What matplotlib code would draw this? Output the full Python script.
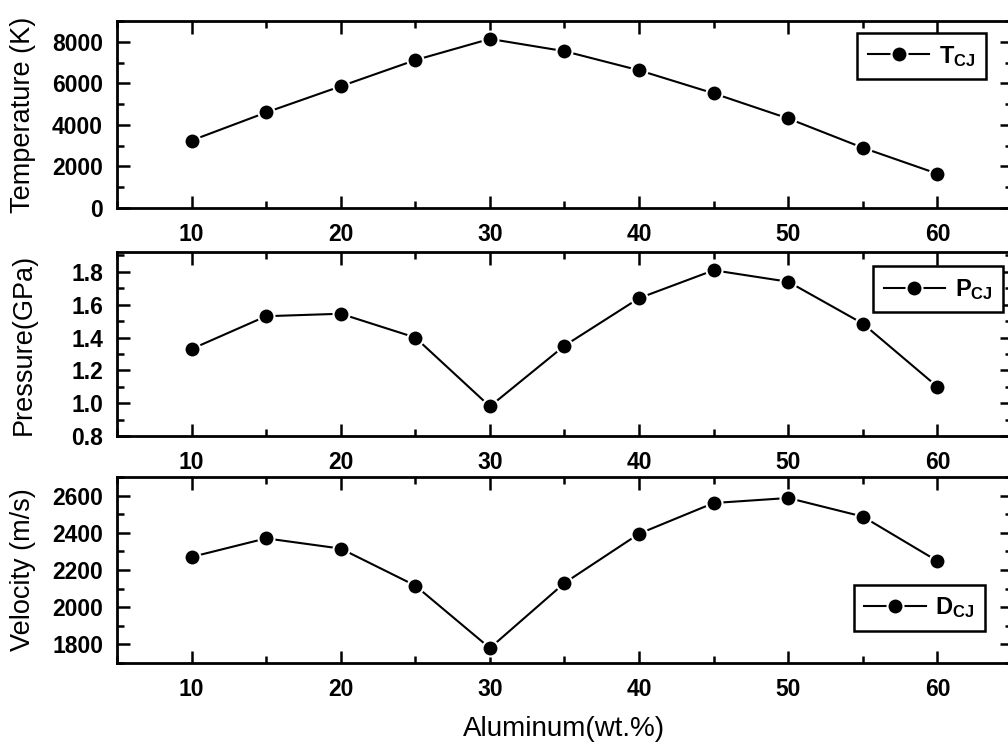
import matplotlib.pyplot as plt
from matplotlib.ticker import MultipleLocator

plt.rcParams['font.family'] = ['Liberation Sans', 'DejaVu Sans']
plt.rcParams['mathtext.fontset'] = 'custom'
plt.rcParams['mathtext.rm'] = 'Liberation Sans'
plt.rcParams['mathtext.bf'] = 'Liberation Sans:bold'

# aluminum content (wt.%)
aluminum = [10, 15, 20, 25, 30, 35, 40, 45, 50, 55, 60]
# CJ temperature (K)
temperature = [3250, 4600, 5860, 7120, 8140, 7550, 6630, 5520, 4310, 2900, 1650]
# CJ pressure (GPa)
pressure = [1.33, 1.53, 1.545, 1.40, 0.98, 1.35, 1.64, 1.81, 1.74, 1.485, 1.10]
# detonation velocity (m/s)
velocity = [2270, 2370, 2315, 2116, 1780, 2130, 2395, 2560, 2587, 2487, 2248]

fig = plt.figure(figsize=(10.08, 7.44), dpi=100)

# panel positions (left, bottom, width, height)
ax1 = fig.add_axes([0.116, 0.7204, 0.888, 0.2513])
ax2 = fig.add_axes([0.116, 0.414, 0.888, 0.247])
ax3 = fig.add_axes([0.116, 0.1089, 0.888, 0.25])

panels = [
    (ax1, temperature, 'Temperature (K)', r'$\mathbf{T_{CJ}}$', (0, 9000), 2000, 1000,
     dict(loc='upper right', bbox_to_anchor=(0.971, 0.936))),
    (ax2, pressure, 'Pressure(GPa)', r'$\mathbf{P_{CJ}}$', (0.8, 1.92), 0.2, 0.1,
     dict(loc='upper right', bbox_to_anchor=(0.990, 0.924))),
    (ax3, velocity, 'Velocity (m/s)', r'$\mathbf{D_{CJ}}$', (1700, 2700), 200, 100,
     dict(loc='lower right', bbox_to_anchor=(0.970, 0.172))),
]

for ax, values, ylabel, name, ylim, major, minor, legpos in panels:
    ax.plot(aluminum, values, color='black', linewidth=1.5, marker='o',
            markersize=11.5, markerfacecolor='black', markeredgecolor='white',
            markeredgewidth=1.5, label=name)
    ax.set_xlim(5, 65)
    ax.set_ylim(*ylim)
    ax.xaxis.set_major_locator(MultipleLocator(10))
    ax.xaxis.set_minor_locator(MultipleLocator(5))
    ax.yaxis.set_major_locator(MultipleLocator(major))
    ax.yaxis.set_minor_locator(MultipleLocator(minor))
    ax.tick_params(which='both', direction='in', top=True, right=True, width=1.8)
    ax.tick_params(which='major', length=9)
    ax.tick_params(which='minor', length=5)
    ax.tick_params(axis='x', pad=11, labelsize=16.5)
    ax.tick_params(axis='y', pad=10, labelsize=16.5)
    for sp in ax.spines.values():
        sp.set_linewidth(2)
    ax.set_ylabel(ylabel, fontsize=19.5)
    ax.yaxis.set_label_coords(-0.09, 0.5)
    leg = ax.legend(fontsize=17, frameon=True, fancybox=False, borderaxespad=0,
                    handlelength=2.6, handletextpad=0.4, borderpad=0.45, **legpos)
    leg.get_frame().set_edgecolor('black')
    leg.get_frame().set_linewidth(1.8)
    leg.get_frame().set_alpha(1)

ax2.yaxis.set_major_formatter(plt.FormatStrFormatter('%.1f'))

for ax in (ax1, ax2, ax3):
    for lab in ax.get_xticklabels() + ax.get_yticklabels():
        lab.set_fontweight('bold')

ax3.set_xlabel('Aluminum(wt.%)', fontsize=20)
ax3.xaxis.set_label_coords(0.5, -0.285)
ax3.xaxis.label.set_verticalalignment('top')

fig.savefig('out.png', dpi=100)
